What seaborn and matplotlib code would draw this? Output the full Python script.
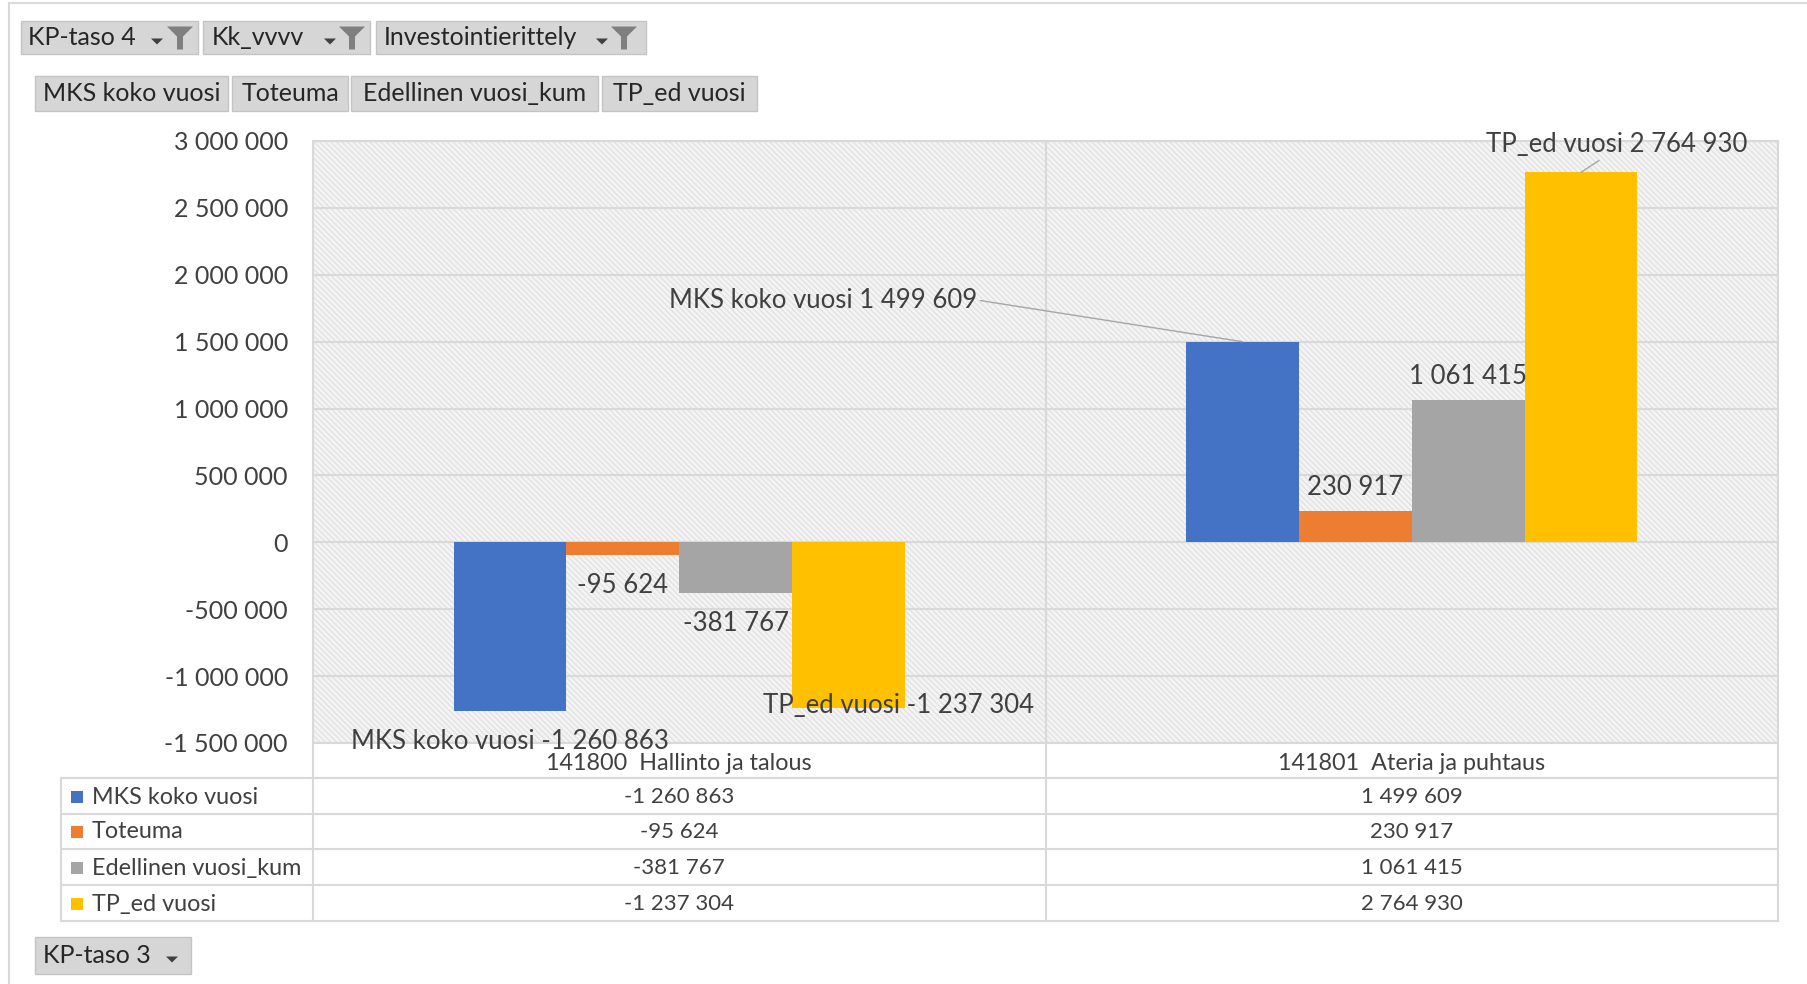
import numpy as np
import pandas as pd
import seaborn as sns
import matplotlib.pyplot as plt
from matplotlib.patches import Rectangle, Polygon
from matplotlib.lines import Line2D
from matplotlib import transforms

# chart data
categories = ['141800  Hallinto ja talous', '141801  Ateria ja puhtaus']
series = ['MKS koko vuosi', 'Toteuma', 'Edellinen vuosi_kum', 'TP_ed vuosi']
mks_koko_vuosi = [-1260863, 1499609]
toteuma = [-95624, 230917]
edellinen_vuosi_kum = [-381767, 1061415]
tp_ed_vuosi = [-1237304, 2764930]
colors = ['#4472C4', '#ED7D31', '#A5A5A5', '#FFC000']
y_ticks = [-1500000, -1000000, -500000, 0, 500000,
           1000000, 1500000, 2000000, 2500000, 3000000]
top_filters = ['KP-taso 4', 'Kk_vvvv', 'Investointierittely']
bottom_filter = 'KP-taso 3'

W, H = 1807, 984
TXT = '#404040'
LINE = '#d9d9d9'


def fmt(v):
    return f'{v:,.0f}'.replace(',', ' ')


def fx(px):
    return px / W


def fy(py):
    return 1 - py / H


def ax_line(ax, fig, x0, y0, x1, y1, color=LINE, lw=1.5):
    # figure-pixel line kept inside the axes so labels draw over it
    ax.add_line(Line2D([fx(x0), fx(x1)], [fy(y0), fy(y1)],
                       transform=fig.transFigure, color=color, lw=lw,
                       clip_on=False, zorder=1.5))


def fig_poly(fig, pts, color):
    fig.add_artist(Polygon([(fx(a), fy(b)) for a, b in pts], closed=True,
                           transform=fig.transFigure, facecolor=color,
                           edgecolor='none'))


def button(fig, x0, y0, x1, y1, label, text_x=None, arrow=None, funnel=None):
    fig.add_artist(Rectangle((fx(x0), fy(y1)), (x1 - x0) / W, (y1 - y0) / H,
                             transform=fig.transFigure, facecolor='#d6d6d6',
                             edgecolor='#c4c4c4', lw=1))
    yc = (y0 + y1) / 2
    if text_x is None:
        fig.text(fx((x0 + x1) / 2), fy(yc), label, ha='center', va='center',
                 fontsize=18, color='#262626')
    else:
        fig.text(fx(text_x), fy(yc), label, ha='left', va='center',
                 fontsize=18, color='#262626')
    if arrow is not None:
        fig_poly(fig, [(arrow - 6, yc + 1), (arrow + 6, yc + 1),
                       (arrow, yc + 7)], '#404040')
    if funnel is not None:
        fig_poly(fig, [(funnel - 13, yc - 11), (funnel + 13, yc - 11),
                       (funnel + 3, yc - 1), (funnel + 3, yc + 12),
                       (funnel - 3, yc + 12), (funnel - 3, yc - 1)],
                 '#7f7f7f')


def main():
    df = pd.DataFrame({
        'Kustannuspaikka': categories * 4,
        'Sarja': np.repeat(series, 2),
        'Arvo': mks_koko_vuosi + toteuma + edellinen_vuosi_kum + tp_ed_vuosi,
    })

    sns.set_style('white')
    plt.rcParams['font.family'] = ['Lato', 'DejaVu Sans']

    fig = plt.figure(figsize=(W / 100, H / 100), dpi=100)
    ax = fig.add_axes([fx(313), fy(743), (1778 - 313) / W, (743 - 141) / H])
    ax.patch.set_visible(False)

    # hatched plot area background
    ax.add_patch(Rectangle((0, 0), 1, 1, transform=ax.transAxes,
                           facecolor='#f4f4f4', edgecolor='#e2e2e2',
                           hatch='\\\\\\\\\\\\', lw=0, zorder=-2))

    sns.barplot(data=df, x='Kustannuspaikka', y='Arvo', hue='Sarja',
                hue_order=series, palette=colors, saturation=1, width=0.616,
                linewidth=0, legend=False, ax=ax, zorder=2)

    ax.set_xlim(-0.5, 1.5)
    ax.set_ylim(-1500000, 3000000)
    ax.set_yticks(y_ticks)
    ax.set_yticklabels([fmt(v) for v in y_ticks], fontsize=18, color=TXT)
    ax.tick_params(axis='y', length=0, pad=18)
    ax.set_xticks([])
    ax.set_xlabel('')
    ax.set_ylabel('')
    ax.set_axisbelow(True)
    ax.grid(axis='y', color=LINE, lw=1.5)
    ax.grid(axis='x', visible=False)
    for s in ax.spines.values():
        s.set_visible(False)

    # data labels
    lab = dict(fontsize=18.5, color=TXT, ha='center', va='center',
               textcoords='offset points', annotation_clip=False, zorder=4)
    lead = dict(arrowstyle='-', color='#a6a6a6', lw=1, shrinkA=0, shrinkB=0)
    rows = [mks_koko_vuosi, toteuma, edellinen_vuosi_kum, tp_ed_vuosi]
    for j, cont in enumerate(ax.containers):
        for i, bar in enumerate(cont):
            val = rows[j][i]
            xb = bar.get_x() + bar.get_width() / 2
            yb = val
            if j == 0 and i == 1:
                ax.annotate(f'{series[0]} {fmt(val)}', (xb, yb),
                            xytext=(-302, 30),
                            arrowprops=dict(relpos=(1, 0.5), **lead), **lab)
            elif j == 3 and i == 1:
                ax.annotate(f'{series[3]} {fmt(val)}', (xb, yb),
                            xytext=(26, 20),
                            arrowprops=dict(relpos=(0.45, 0), **lead), **lab)
            elif j == 3 and i == 0:
                ax.annotate(f'{series[3]} {fmt(val)}', (xb, yb),
                            xytext=(36, 1.5), **lab)
            elif j == 0 and i == 0:
                ax.annotate(f'{series[0]} {fmt(val)}', (xb, yb),
                            xytext=(0, -22), **lab)
            else:
                off = 17 if val >= 0 else -22
                ax.annotate(fmt(val), (xb, yb), xytext=(0, off), **lab)

    # table lines and outline
    ax_line(ax, fig, 313, 141, 1778, 141)
    ax_line(ax, fig, 313, 743, 1778, 743)
    for yy in [778, 814, 849, 885, 921]:
        ax_line(ax, fig, 61, yy, 1778, yy)
    ax_line(ax, fig, 61, 778, 61, 921)
    for xx in [313, 1046, 1778]:
        ax_line(ax, fig, xx, 141, xx, 921)
    ax_line(ax, fig, 9, 3, W, 3)
    ax_line(ax, fig, 9, 3, 9, H)

    # table text
    bt = transforms.blended_transform_factory(ax.transData, fig.transFigure)
    for i, c in enumerate(categories):
        ax.text(i, fy(763), c, transform=bt, ha='center', va='center',
                fontsize=16.8, color=TXT)
    row_y = [797, 832, 868, 904]
    for name, vals, col, yy in zip(series, rows, colors, row_y):
        fig.add_artist(Rectangle((fx(71), fy(yy + 6)), 12 / W, 12 / H,
                                 transform=fig.transFigure, facecolor=col,
                                 edgecolor='none'))
        fig.text(fx(92), fy(yy), name, ha='left', va='center',
                 fontsize=16.8, color=TXT)
        for i, v in enumerate(vals):
            ax.text(i, fy(yy), fmt(v), transform=bt, ha='center',
                    va='center', fontsize=16, color=TXT)

    # pivot field buttons
    button(fig, 21, 21, 198, 54, top_filters[0], text_x=28,
           arrow=157, funnel=180)
    button(fig, 203, 21, 370, 54, top_filters[1], text_x=212,
           arrow=330, funnel=352)
    button(fig, 376, 21, 646, 54, top_filters[2], text_x=384,
           arrow=602, funnel=624)
    for (x0, x1), name in zip([(35, 228), (232, 348), (351, 598), (602, 757)],
                              series):
        button(fig, x0, 76, x1, 111, name)
    button(fig, 35, 937, 191, 974, bottom_filter, text_x=43, arrow=172)

    fig.savefig('out.png', dpi=100, facecolor='white')


if __name__ == "__main__":
    main()
